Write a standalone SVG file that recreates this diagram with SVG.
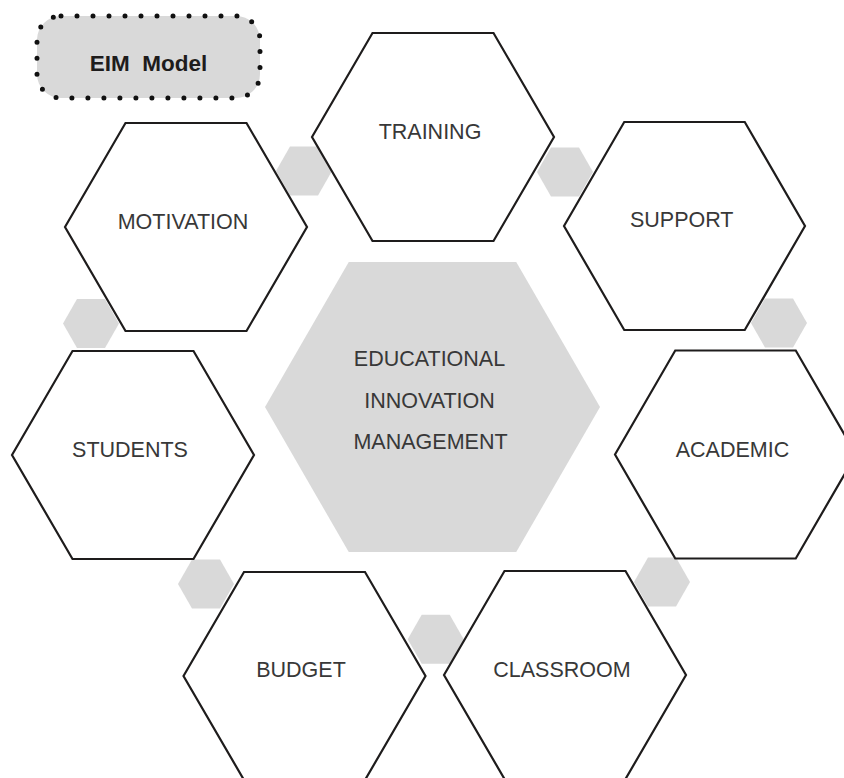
<svg xmlns="http://www.w3.org/2000/svg" width="844" height="778" viewBox="0 0 844 778">
<style>
.hex{fill:#ffffff;stroke:#1e1c1c;stroke-width:2.2;stroke-linejoin:miter}
.core{fill:#d9d9d9;stroke:none}
.link{fill:#d9d9d9;stroke:none}
.lbl{font-family:"Liberation Sans",Arial,sans-serif;font-size:21.5px;fill:#383838;text-anchor:middle}
.title{font-family:"Liberation Sans",Arial,sans-serif;font-size:22.5px;font-weight:bold;fill:#1e1c1c;text-anchor:middle}
</style>
<rect width="844" height="778" fill="#ffffff"/>
<g id="connectors">
<polygon class="link" points="276,171 290,146.5 318,146.5 332,171 318,195.5 290,195.5"/>
<polygon class="link" points="537,172 551,147.5 579,147.5 593,172 579,196.5 551,196.5"/>
<polygon class="link" points="751,323 765,298.5 793,298.5 807,323 793,347.5 765,347.5"/>
<polygon class="link" points="63,323.5 77,299 105,299 119,323.5 105,348 77,348"/>
<polygon class="link" points="178,584 192,559.5 220,559.5 234,584 220,608.5 192,608.5"/>
<polygon class="link" points="407.7,639.3 421.7,614.8 449.7,614.8 463.7,639.3 449.7,663.8 421.7,663.8"/>
<polygon class="link" points="634,582 648,557.5 676,557.5 690,582 676,606.5 648,606.5"/>
</g>
<g id="title">
<rect x="37" y="16" width="223" height="82" rx="24" fill="#d9d9d9" stroke="#111111" stroke-width="5" stroke-dasharray="0 16" stroke-linecap="round"/>
<text class="title" x="148.5" y="71">EIM&#160;&#160;Model</text>
</g>
<g id="core">
<polygon class="core" points="265,407 348.75,262 516.25,262 600,407 516.25,552 348.75,552"/>
<text class="lbl" x="429.5" y="366">EDUCATIONAL</text>
<text class="lbl" x="429.5" y="407.5">INNOVATION</text>
<text class="lbl" x="430.5" y="449">MANAGEMENT</text>
</g>
<g id="training">
<polygon class="hex" points="312,137 372.5,33 493.5,33 554,137 493.5,241 372.5,241"/>
<text class="lbl" x="430" y="138.5">TRAINING</text>
</g>
<g id="motivation">
<polygon class="hex" points="65,227 125.5,123 246.5,123 307,227 246.5,331 125.5,331"/>
<text class="lbl" x="183" y="229.3">MOTIVATION</text>
</g>
<g id="support">
<polygon class="hex" points="564,226 624.25,122 744.75,122 805,226 744.75,330 624.25,330"/>
<text class="lbl" x="681.7" y="227.3">SUPPORT</text>
</g>
<g id="students">
<polygon class="hex" points="12,455 72.5,351 193.5,351 254,455 193.5,559 72.5,559"/>
<text class="lbl" x="130" y="456.7">STUDENTS</text>
</g>
<g id="academic">
<polygon class="hex" points="615,454.5 675.25,350.5 795.75,350.5 856,454.5 795.75,558.5 675.25,558.5"/>
<text class="lbl" x="732.5" y="456.7">ACADEMIC</text>
</g>
<g id="budget">
<polygon class="hex" points="183.5,676 244,572 365,572 425.5,676 365,780 244,780"/>
<text class="lbl" x="301" y="677.3">BUDGET</text>
</g>
<g id="classroom">
<polygon class="hex" points="444,675 504.5,571 625.5,571 686,675 625.5,779 504.5,779"/>
<text class="lbl" x="562" y="676.7">CLASSROOM</text>
</g>
</svg>
